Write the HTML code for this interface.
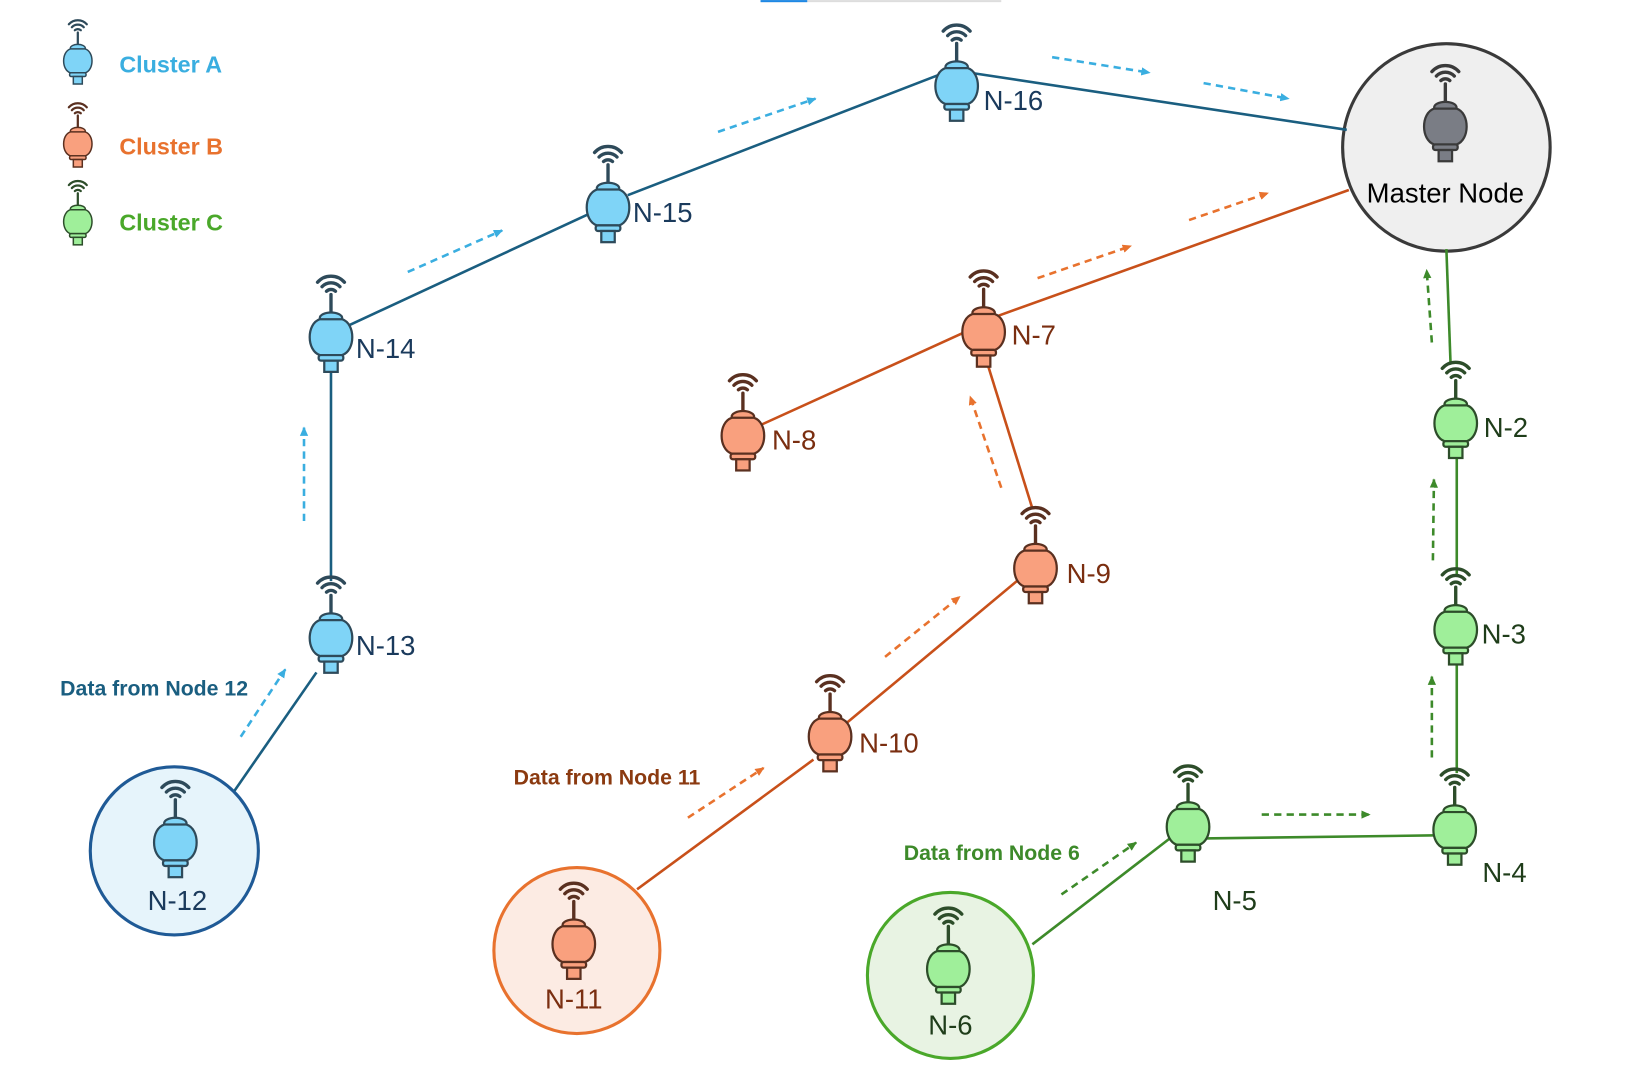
<!DOCTYPE html>
<html><head><meta charset="utf-8"><style>
html,body{margin:0;padding:0;background:#fff}
svg{display:block}
text{font-family:"Liberation Sans",sans-serif}
.b{--f:#7fd4f7;--s:#2e4a5a}
.o{--f:#f9a07e;--s:#5a3020}
.g{--f:#9fef9a;--s:#2d4d2a}
.m{--f:#7a7d85;--s:#3a3a3a}
</style></head><body>
<svg width="1629" height="1072" viewBox="0 0 1570 1033" xmlns="http://www.w3.org/2000/svg">
<defs>
<symbol id="ic0" overflow="visible">
<g fill="none" stroke="var(--s)" stroke-width="3" stroke-linecap="round">
<path d="M-4,-43 A6,6 0 0 1 4,-43"/>
<path d="M-8,-47 A11,11 0 0 1 8,-47"/>
<path d="M-12,-51 A16,16 0 0 1 12,-51"/>
<line x1="0" y1="-40" x2="0" y2="-22"/>
</g>
<g fill="var(--f)" stroke="var(--s)" stroke-width="2">
<ellipse cx="0" cy="-19" rx="10" ry="5"/>
<path d="M-10,-18 C-22,-14 -22,10 -10,14 L10,14 C22,10 22,-14 10,-18 Z"/>
<rect x="-11" y="14" width="22" height="5" rx="2"/>
<rect x="-6" y="19" width="12" height="10"/>
</g>
</symbol>
<symbol id="ic" overflow="visible"><g transform="translate(0,2) scale(1.08)"><use href="#ic0"/></g></symbol>
<marker id="ab" markerWidth="10" markerHeight="10" refX="8" refY="5" orient="auto" markerUnits="userSpaceOnUse"><path d="M0,1 L9,5 L0,9 Z" fill="#3aaee0"/></marker>
<marker id="ao" markerWidth="10" markerHeight="10" refX="8" refY="5" orient="auto" markerUnits="userSpaceOnUse"><path d="M0,1 L9,5 L0,9 Z" fill="#e8722e"/></marker>
<marker id="ag" markerWidth="10" markerHeight="10" refX="8" refY="5" orient="auto" markerUnits="userSpaceOnUse"><path d="M0,1 L9,5 L0,9 Z" fill="#3d8a2a"/></marker>
</defs>
<rect x="733" y="0" width="232" height="2" fill="#ddd"/><rect x="733" y="0" width="45" height="2" fill="#1e88e5"/>

<circle cx="168" cy="820" r="81" fill="#e6f4fb" stroke="#1f5a96" stroke-width="3"/>
<circle cx="556" cy="916" r="80" fill="#fcebe3" stroke="#e8722e" stroke-width="3"/>
<circle cx="916" cy="940" r="80" fill="#e8f3e3" stroke="#4aa82a" stroke-width="3"/>
<circle cx="1394" cy="142" r="100" fill="#efefef" stroke="#3a3a3a" stroke-width="3"/>

<g stroke="#1a5e80" stroke-width="2.5" fill="none">
<line x1="226" y1="762" x2="305" y2="648"/>
<line x1="319" y1="560" x2="319" y2="355"/>
<line x1="335" y1="314" x2="570" y2="205"/>
<line x1="605" y1="188" x2="905" y2="72"/>
<line x1="935" y1="70" x2="1298" y2="125"/>
</g>
<g stroke="#c8501a" stroke-width="2.5" fill="none">
<line x1="614" y1="857" x2="784" y2="732"/>
<line x1="812" y1="700" x2="980" y2="560"/>
<line x1="995" y1="490" x2="950" y2="345"/>
<line x1="732" y1="410" x2="930" y2="320"/>
<line x1="960" y1="305" x2="1300" y2="183"/>
</g>
<g stroke="#3d8a2a" stroke-width="2.5" fill="none">
<line x1="995" y1="910" x2="1130" y2="806"/>
<line x1="1160" y1="808" x2="1385" y2="805"/>
<line x1="1404" y1="745" x2="1404" y2="640"/>
<line x1="1404" y1="555" x2="1404" y2="440"/>
<line x1="1398" y1="350" x2="1394" y2="240"/>
</g>

<g stroke="#3aaee0" stroke-width="2.5" stroke-dasharray="7,5" marker-end="url(#ab)">
<line x1="232" y1="710" x2="275" y2="645"/>
<line x1="293" y1="502" x2="293" y2="412"/>
<line x1="393" y1="262" x2="484" y2="222"/>
<line x1="692" y1="127" x2="786" y2="95"/>
<line x1="1014" y1="55" x2="1108" y2="70"/>
<line x1="1160" y1="80" x2="1242" y2="95"/>
</g>
<g stroke="#e8722e" stroke-width="2.5" stroke-dasharray="7,5" marker-end="url(#ao)">
<line x1="663" y1="788" x2="736" y2="740"/>
<line x1="853" y1="633" x2="925" y2="575"/>
<line x1="965" y1="470" x2="935" y2="382"/>
<line x1="1000" y1="268" x2="1090" y2="237"/>
<line x1="1146" y1="212" x2="1222" y2="186"/>
</g>
<g stroke="#3d8a2a" stroke-width="2.5" stroke-dasharray="7,5" marker-end="url(#ag)">
<line x1="1023" y1="862" x2="1095" y2="812"/>
<line x1="1216" y1="785" x2="1320" y2="785"/>
<line x1="1380" y1="730" x2="1380" y2="652"/>
<line x1="1381" y1="540" x2="1382" y2="462"/>
<line x1="1380" y1="330" x2="1375" y2="260"/>
</g>

<use href="#ic" class="b" x="922" y="83"/>
<use href="#ic" class="b" x="586" y="200"/>
<use href="#ic" class="b" x="319" y="325"/>
<use href="#ic" class="b" x="319" y="615"/>
<use href="#ic" class="b" x="169" y="812"/>
<use href="#ic" class="o" x="948" y="320"/>
<use href="#ic" class="o" x="716" y="420"/>
<use href="#ic" class="o" x="998" y="548"/>
<use href="#ic" class="o" x="800" y="710"/>
<use href="#ic" class="o" x="553" y="910"/>
<use href="#ic" class="g" x="914" y="934"/>
<use href="#ic" class="g" x="1145" y="797"/>
<use href="#ic" class="g" x="1402" y="800"/>
<use href="#ic" class="g" x="1403" y="607"/>
<use href="#ic" class="g" x="1403" y="408"/>
<use href="#ic" class="m" x="1393" y="122"/>
<g transform="translate(75,60) scale(0.72)"><use href="#ic0" class="b"/></g>
<g transform="translate(75,140) scale(0.72)"><use href="#ic0" class="o"/></g>
<g transform="translate(75,215) scale(0.72)"><use href="#ic0" class="g"/></g>

<g font-size="22.5" font-weight="bold">
<text x="115" y="70" fill="#3aaee0">Cluster A</text>
<text x="115" y="149" fill="#e8722e">Cluster B</text>
<text x="115" y="222" fill="#4aa82a">Cluster C</text>
</g>
<g font-size="20.5" font-weight="bold">
<text x="58" y="670" fill="#1a5e80">Data from Node 12</text>
<text x="495" y="756" fill="#8b3a10">Data from Node 11</text>
<text x="871" y="829" fill="#3d8a2a">Data from Node 6</text>
</g>
<g font-size="26.5" fill="#1a3a5c">
<text x="948" y="106">N-16</text>
<text x="610" y="214">N-15</text>
<text x="343" y="345">N-14</text>
<text x="343" y="631">N-13</text>
<text x="171" y="877" text-anchor="middle">N-12</text>
</g>
<g font-size="26.5" fill="#7a2e10">
<text x="975" y="332">N-7</text>
<text x="744" y="433">N-8</text>
<text x="1028" y="562">N-9</text>
<text x="828" y="725">N-10</text>
<text x="553" y="972" text-anchor="middle">N-11</text>
</g>
<g font-size="26.5" fill="#1f3d1a">
<text x="916" y="997" text-anchor="middle">N-6</text>
<text x="1190" y="877" text-anchor="middle">N-5</text>
<text x="1450" y="850" text-anchor="middle">N-4</text>
<text x="1428" y="620">N-3</text>
<text x="1430" y="421">N-2</text>
</g>
<text x="1393" y="195" font-size="26.5" fill="#000" text-anchor="middle">Master Node</text>
</svg>
</body></html>
